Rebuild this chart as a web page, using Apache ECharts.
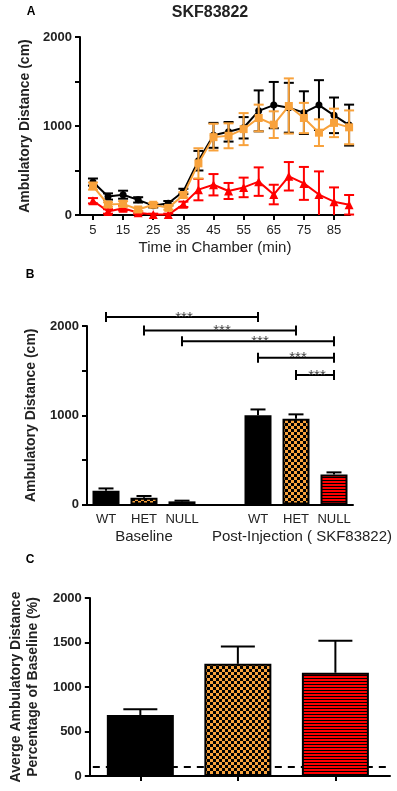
<!DOCTYPE html>
<html>
<head>
<meta charset="utf-8">
<script src="https://cdn.jsdelivr.net/npm/echarts@6/dist/echarts.min.js"></script>
<style>
  html, body { margin: 0; padding: 0; background: #fff; }
  #chart { width: 397px; height: 791px; }
</style>
</head>
<body>
<div id="chart"></div>
<script>
// ---- panel A: time course ----
const minutes = [5, 10, 15, 20, 25, 30, 35, 40, 45, 50, 55, 60, 65, 70, 75, 80, 85, 90]
const minuteTicks = [5, 15, 25, 35, 45, 55, 65, 75, 85]
const wtMean = [370, 208, 228, 170, 105, 132, 265, 610, 895, 935, 980, 1170, 1235, 1205, 1150, 1235, 1120, 1010]
const wtSem = [40, 35, 45, 30, 20, 25, 30, 110, 140, 110, 120, 230, 260, 280, 240, 280, 200, 230]
const hetMean = [325, 118, 125, 62, 115, 80, 225, 580, 875, 890, 965, 1090, 1015, 1225, 1090, 925, 1035, 985]
const hetSem = [40, 25, 30, 20, 20, 20, 30, 170, 150, 140, 180, 150, 150, 310, 170, 150, 160, 190]
const nullMean = [160, 40, 75, 25, 5, 5, 120, 285, 340, 270, 310, 375, 230, 435, 355, 230, 150, 115]
const nullSem = [30, 25, 25, 15, 10, 10, 30, 120, 120, 90, 110, 160, 110, 160, 185, 260, 160, 110]

// ---- panel B: baseline vs post-injection ----
const genotypes = ['WT', 'HET', 'NULL']
const baselineMean = [155, 75, 35]
const baselineSem = [25, 20, 8]
const postMean = [1000, 960, 335]
const postSem = [65, 50, 25]
// [from bar, to bar, height] bars: 0-2 baseline, 4-6 post (3 is the gap)
const sigBrackets = [[0, 4, 2100], [1, 5, 1950], [2, 6, 1830], [4, 6, 1645], [5, 6, 1450]]

// ---- panel C: percentage of baseline ----
const pctMean = [685, 1260, 1160]
const pctSem = [65, 195, 360]
const baselinePct = 100

const ORANGE = '#f8a23c'
const RED = '#ff0000'
const FONT = 'Liberation Sans'

function checker() {
  const c = document.createElement('canvas')
  c.width = 6; c.height = 6
  const g = c.getContext('2d')
  g.fillStyle = ORANGE; g.fillRect(0, 0, 6, 6)
  g.fillStyle = '#000'; g.fillRect(0, 0, 3, 3); g.fillRect(3, 3, 3, 3)
  return { image: c, repeat: 'repeat' }
}
function stripes() {
  const c = document.createElement('canvas')
  c.width = 4; c.height = 3
  const g = c.getContext('2d')
  g.fillStyle = RED; g.fillRect(0, 0, 4, 3)
  g.fillStyle = '#000'; g.fillRect(0, 0, 4, 1)
  return { image: c, repeat: 'repeat' }
}
const fills = ['#000', checker(), stripes()]

// error bar: vertical line with caps, both ways or up only
function errRender(upOnly, capW) {
  return function (params, api) {
    const x = api.value(0), m = api.value(1), s = api.value(2)
    const top = api.coord([x, m + s])
    const bot = api.coord([x, upOnly ? m : Math.max(m - s, 0)])
    const style = { stroke: api.visual('color'), lineWidth: 2 }
    const kids = [
      { type: 'line', shape: { x1: top[0], y1: top[1], x2: bot[0], y2: bot[1] }, style },
      { type: 'line', shape: { x1: top[0] - capW / 2, y1: top[1], x2: top[0] + capW / 2, y2: top[1] }, style }
    ]
    if (!upOnly && m - s > 0) {
      kids.push({ type: 'line', shape: { x1: bot[0] - capW / 2, y1: bot[1], x2: bot[0] + capW / 2, y2: bot[1] }, style })
    }
    return { type: 'group', children: kids }
  }
}

function bracketRender(params, api) {
  const a = api.coord([api.value(0), api.value(2)])
  const b = api.coord([api.value(1), api.value(2)])
  const style = { stroke: '#000', lineWidth: 2 }
  return {
    type: 'group',
    children: [
      { type: 'line', shape: { x1: a[0], y1: a[1], x2: b[0], y2: b[1] }, style },
      { type: 'line', shape: { x1: a[0], y1: a[1] - 5, x2: a[0], y2: a[1] + 5 }, style },
      { type: 'line', shape: { x1: b[0], y1: b[1] - 5, x2: b[0], y2: b[1] + 5 }, style },
      {
        type: 'text', x: (a[0] + b[0]) / 2 + 2, y: a[1] + 0.5,
        style: { text: '***', fill: '#444', fontSize: 15, fontFamily: FONT, textAlign: 'center', textVerticalAlign: 'middle' }
      }
    ]
  }
}

// dashed reference line across the whole grid, drawn behind the bars
function refLineRender(params, api) {
  const cs = params.coordSys
  const y = api.coord([1, api.value(0)])[1]
  return {
    type: 'line',
    shape: { x1: cs.x + 3, y1: y, x2: cs.x + cs.width, y2: y },
    style: { stroke: '#000', lineWidth: 2, lineDash: [7, 6] }
  }
}

const axisLine = { lineStyle: { color: '#000', width: 2 } }
const axisTick = { length: 5, lineStyle: { color: '#000', width: 2 } }
const yLabel = { fontFamily: FONT, fontSize: 13, fontWeight: 'bold', color: '#222', margin: 8 }
const yName = { fontFamily: FONT, fontSize: 14, fontWeight: 'bold', color: '#222' }

const barCats = genotypes.concat([''], genotypes)
const barVals = baselineMean.map((v, i) => ({ value: v, itemStyle: { color: fills[i] } }))
  .concat(['-'], postMean.map((v, i) => ({ value: v, itemStyle: { color: fills[i] } })))

const chart = echarts.init(document.getElementById('chart'), null, { renderer: 'canvas' })

chart.setOption({
  animation: false,
  grid: [
    { left: 80, top: 37, width: 270, height: 178 },
    { left: 87, top: 326, width: 266, height: 178.5 },
    { left: 87, top: 598, width: 303, height: 178 }
  ],
  xAxis: [
    {
      gridIndex: 0, type: 'value', min: 0.7, max: 90.3,
      axisLine, axisTick: { ...axisTick, customValues: minuteTicks },
      axisLabel: { customValues: minuteTicks, fontFamily: FONT, fontSize: 13, color: '#222', margin: 9 },
      splitLine: { show: false },
      name: 'Time in Chamber (min)', nameLocation: 'middle', nameGap: 25,
      nameTextStyle: { fontFamily: FONT, fontSize: 15, color: '#222' }
    },
    {
      gridIndex: 1, type: 'category', data: barCats,
      axisLine, axisTick: { ...axisTick, alignWithLabel: true, interval: (i) => i !== 3 },
      axisLabel: { fontFamily: FONT, fontSize: 13, color: '#222', margin: 8, interval: 0 }
    },
    {
      gridIndex: 2, type: 'value', min: 0.482, max: 3.56,
      axisLine, axisTick: { ...axisTick, customValues: [1, 2, 3] },
      axisLabel: { show: false }, splitLine: { show: false }
    }
  ],
  yAxis: [
    {
      gridIndex: 0, type: 'value', min: 0, max: 2000, interval: 500,
      axisLine: { show: true, ...axisLine }, axisTick: { show: true, ...axisTick },
      axisLabel: { ...yLabel, formatter: v => (v % 1000 === 0 ? String(v) : '') },
      splitLine: { show: false },
      name: 'Ambulatory Distance (cm)', nameLocation: 'middle', nameGap: 41, nameTextStyle: yName
    },
    {
      gridIndex: 1, type: 'value', min: 0, max: 2000, interval: 500,
      axisLine: { show: true, ...axisLine }, axisTick: { show: true, ...axisTick },
      axisLabel: { ...yLabel, formatter: v => (v % 1000 === 0 ? String(v) : '') },
      splitLine: { show: false },
      name: 'Ambulatory Distance (cm)', nameLocation: 'middle', nameGap: 49, nameTextStyle: yName
    },
    {
      gridIndex: 2, type: 'value', min: 0, max: 2000, interval: 500,
      axisLine: { show: true, ...axisLine }, axisTick: { show: true, ...axisTick },
      axisLabel: { ...yLabel, formatter: v => String(v) }, splitLine: { show: false },
      name: 'Averge Ambulatory Distance\nPercentage of Baseline (%)', nameLocation: 'middle', nameGap: 45,
      nameTextStyle: { ...yName, lineHeight: 17 }
    }
  ],
  series: [
    // panel A
    {
      type: 'custom', xAxisIndex: 0, yAxisIndex: 0, z: 2, itemStyle: { color: RED },
      renderItem: errRender(false, 10), data: minutes.map((m, i) => [m, nullMean[i], nullSem[i]])
    },
    {
      type: 'line', xAxisIndex: 0, yAxisIndex: 0, z: 3, symbol: 'triangle', symbolSize: 9,
      lineStyle: { color: RED, width: 2 }, itemStyle: { color: RED },
      data: minutes.map((m, i) => [m, nullMean[i]])
    },
    {
      type: 'custom', xAxisIndex: 0, yAxisIndex: 0, z: 4, itemStyle: { color: '#000' },
      renderItem: errRender(false, 10), data: minutes.map((m, i) => [m, wtMean[i], wtSem[i]])
    },
    {
      type: 'line', xAxisIndex: 0, yAxisIndex: 0, z: 5, symbol: 'circle', symbolSize: 7,
      lineStyle: { color: '#000', width: 2 }, itemStyle: { color: '#000' },
      data: minutes.map((m, i) => [m, wtMean[i]])
    },
    {
      type: 'custom', xAxisIndex: 0, yAxisIndex: 0, z: 6, itemStyle: { color: ORANGE },
      renderItem: errRender(false, 10), data: minutes.map((m, i) => [m, hetMean[i], hetSem[i]])
    },
    {
      type: 'line', xAxisIndex: 0, yAxisIndex: 0, z: 7, symbol: 'rect', symbolSize: 8,
      lineStyle: { color: ORANGE, width: 2 }, itemStyle: { color: ORANGE },
      data: minutes.map((m, i) => [m, hetMean[i]])
    },
    // panel B
    {
      type: 'custom', xAxisIndex: 1, yAxisIndex: 1, z: 1, itemStyle: { color: '#000' },
      renderItem: errRender(true, 15),
      data: baselineMean.map((v, i) => [i, v, baselineSem[i]]).concat(postMean.map((v, i) => [i + 4, v, postSem[i]]))
    },
    {
      type: 'bar', xAxisIndex: 1, yAxisIndex: 1, z: 2, barWidth: 27,
      itemStyle: { borderColor: '#000', borderWidth: 2 }, data: barVals
    },
    {
      type: 'custom', xAxisIndex: 1, yAxisIndex: 1, z: 3, clip: false,
      renderItem: bracketRender, data: sigBrackets
    },
    // panel C
    {
      type: 'custom', xAxisIndex: 2, yAxisIndex: 2, z: 1,
      renderItem: refLineRender, data: [[baselinePct]]
    },
    {
      type: 'custom', xAxisIndex: 2, yAxisIndex: 2, z: 2, itemStyle: { color: '#000' },
      renderItem: errRender(true, 34), data: pctMean.map((v, i) => [i + 1, v, pctSem[i]])
    },
    {
      type: 'bar', xAxisIndex: 2, yAxisIndex: 2, z: 3, barWidth: 67,
      itemStyle: { borderColor: '#000', borderWidth: 2 },
      data: pctMean.map((v, i) => ({ value: [i + 1, v], itemStyle: { color: fills[i] } }))
    }
  ],
  graphic: [
    { type: 'text', x: 31, y: 12, style: { text: 'A', fontSize: 12, fontWeight: 'bold', fontFamily: FONT, fill: '#000', textAlign: 'center', textVerticalAlign: 'middle' } },
    { type: 'text', x: 210, y: 13, style: { text: 'SKF83822', fontSize: 16, fontWeight: 'bold', fontFamily: FONT, fill: '#222', textAlign: 'center', textVerticalAlign: 'middle' } },
    { type: 'text', x: 30, y: 275, style: { text: 'B', fontSize: 12, fontWeight: 'bold', fontFamily: FONT, fill: '#000', textAlign: 'center', textVerticalAlign: 'middle' } },
    { type: 'text', x: 144, y: 537, style: { text: 'Baseline', fontSize: 15, fontFamily: FONT, fill: '#222', textAlign: 'center', textVerticalAlign: 'middle' } },
    { type: 'text', x: 302, y: 537, style: { text: 'Post-Injection ( SKF83822)', fontSize: 15, fontFamily: FONT, fill: '#222', textAlign: 'center', textVerticalAlign: 'middle' } },
    { type: 'text', x: 30, y: 560, style: { text: 'C', fontSize: 12, fontWeight: 'bold', fontFamily: FONT, fill: '#000', textAlign: 'center', textVerticalAlign: 'middle' } }
  ]
})
</script>
</body>
</html>
